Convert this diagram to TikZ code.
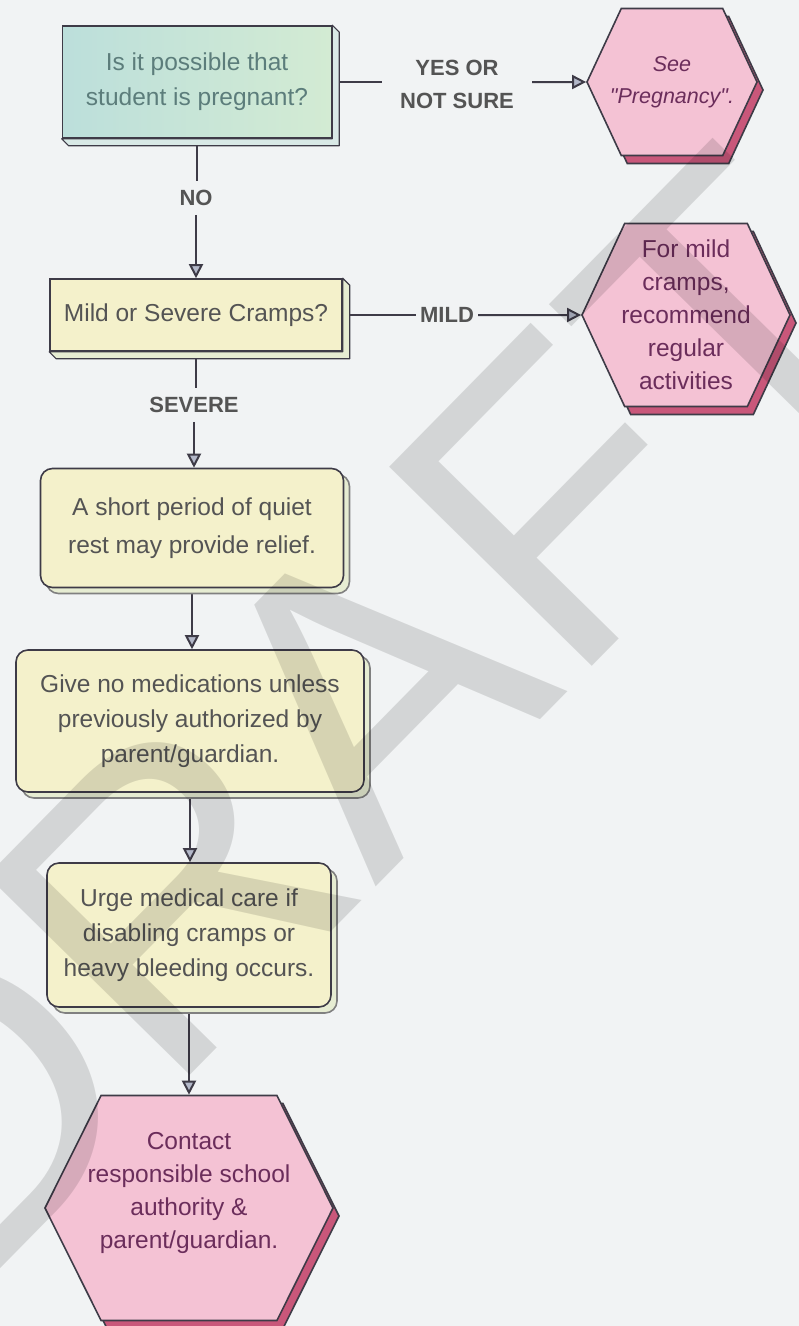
\documentclass[tikz,border=0pt]{standalone}
\usepackage{fontspec}
\setmainfont{Liberation Sans}[Ligatures=TeXOff]
\usetikzlibrary{arrows.meta,shapes.symbols,shadows,backgrounds}

\definecolor{paper}{HTML}{F1F3F4}
\definecolor{edge}{HTML}{3E3B47}
\definecolor{tealL}{HTML}{BCDFDB}
\definecolor{tealR}{HTML}{D3EBD3}
\definecolor{tealink}{HTML}{5C7D7B}
\definecolor{tealside}{HTML}{D9E9E6}
\definecolor{cream}{HTML}{F4F1CB}
\definecolor{creamside}{HTML}{E6ECD2}
\definecolor{ink}{HTML}{545454}
\definecolor{pinkfill}{HTML}{F4C2D4}
\definecolor{pinkside}{HTML}{C9577A}
\definecolor{plum}{HTML}{6B2D5B}
\definecolor{tipfill}{HTML}{B3B8C9}

\tikzset{
  block/.style={draw=edge, line width=1.6pt, align=center, inner sep=0pt,
    font=\fontsize{24.5}{35}\selectfont},
  question/.style={block, fill=cream, text=ink},
  stepbox/.style={block, rounded corners=12pt, fill=cream, text=ink,
    copy shadow={shadow xshift=6pt, shadow yshift=-6pt, fill=creamside, draw=gray}},
  hexa/.style={block, shape=signal, signal to=east and west, signal pointer angle=130,
    inner xsep=-30pt, fill=pinkfill, text=plum, font=\fontsize{24.5}{33}\selectfont,
    general shadow={shadow xshift=6pt, shadow yshift=-8pt, fill=pinkside, draw=edge}},
  lab/.style={font=\bfseries\fontsize{22}{33}\selectfont, text=ink, align=center, inner sep=9pt},
  conn/.style={draw=edge, line width=2pt},
  flow/.style={conn, -{Triangle[length=14pt,width=14pt,fill=tipfill]}},
  sideface/.style={fill=#1, draw=edge, line width=1.2pt, line join=round},
}

% right and bottom faces of a raised block
\newcommand{\blockdepth}[2]{%
  \filldraw[sideface=#2] (#1.north east) -- ++(7,7) -- ([shift={(7,7)}]#1.south east)
    -- ([shift={(7,7)}]#1.south west) -- (#1.south west) -- (#1.south east) -- cycle;}

\begin{document}
\begin{tikzpicture}[x=1pt, y=-1pt]
  \begin{scope}[on background layer]
    \fill[paper] (0,0) rectangle (799,1326);
  \end{scope}
  \useasboundingbox (0,0) rectangle (799,1326);

  % questions
  \node[block, left color=tealL, right color=tealR, text=tealink,
    minimum width=269pt, minimum height=112pt] (preg) at (197,82) {Is it possible that\\student is pregnant?};
  \blockdepth{preg}{tealside}
  \node[hexa, minimum width=170pt, minimum height=147pt,
    font=\itshape\fontsize{21.5}{32}\selectfont] (seepreg) at (672,82) {See\\"Pregnancy".};

  \node[question, minimum width=292pt, minimum height=72pt] (cramps) at (196,315) {Mild or Severe Cramps?};
  \blockdepth{cramps}{creamside}
  \node[hexa, minimum width=208pt, minimum height=183pt] (mildhex) at (686,315)
    {For mild\\cramps,\\recommend\\regular\\activities};

  % steps for severe cramps
  \node[stepbox, minimum width=303pt, minimum height=119pt,
    font=\fontsize{24.5}{38}\selectfont] (rest) at (192,528) {A short period of quiet\\rest may provide relief.};
  \node[stepbox, minimum width=348pt, minimum height=142pt] (meds) at (190,721)
    {Give no medications unless\\previously authorized by\\parent/guardian.};
  \node[stepbox, minimum width=284pt, minimum height=144pt] (care) at (189,935)
    {Urge medical care if\\disabling cramps or\\heavy bleeding occurs.};
  \node[hexa, minimum width=288pt, minimum height=225pt, signal pointer angle=127,
    text depth=35pt] (contact) at (189,1208)
    {Contact\\responsible school\\authority \&\\parent/guardian.};

  % answers on the connectors
  \node[lab, inner xsep=18pt] (yes) at (457,84) {YES OR\\NOT SURE};
  \node[lab] (no) at (196,198) {NO};
  \node[lab, inner xsep=4pt] (mild) at (447,315) {MILD};
  \node[lab] (severe) at (194,405) {SEVERE};

  \begin{scope}[on background layer]
    \draw[conn] (preg) -- (preg -| yes.west);
    \draw[flow] (yes.east |- seepreg) -- (seepreg);
    \draw[conn] (preg) -- (preg |- no.north);
    \draw[flow] (no) -- (no |- cramps.north);
    \draw[conn] (cramps) -- (cramps -| mild.west);
    \draw[flow] (mild) -- (mildhex);
    \draw[conn] (cramps) -- (cramps |- severe.north);
    \draw[flow] (severe) -- (severe |- rest.north);
    \foreach \a/\b in {rest/meds, meds/care, care/contact}
      \draw[flow] (\a) -- (\a |- \b.north);
  \end{scope}

  % watermark
  \node[rotate=45.5, text=black, opacity=.12, inner sep=0pt,
    font=\fontsize{413}{413}\selectfont] (wm) at (339,722) {DRAFT};
\end{tikzpicture}
\end{document}
